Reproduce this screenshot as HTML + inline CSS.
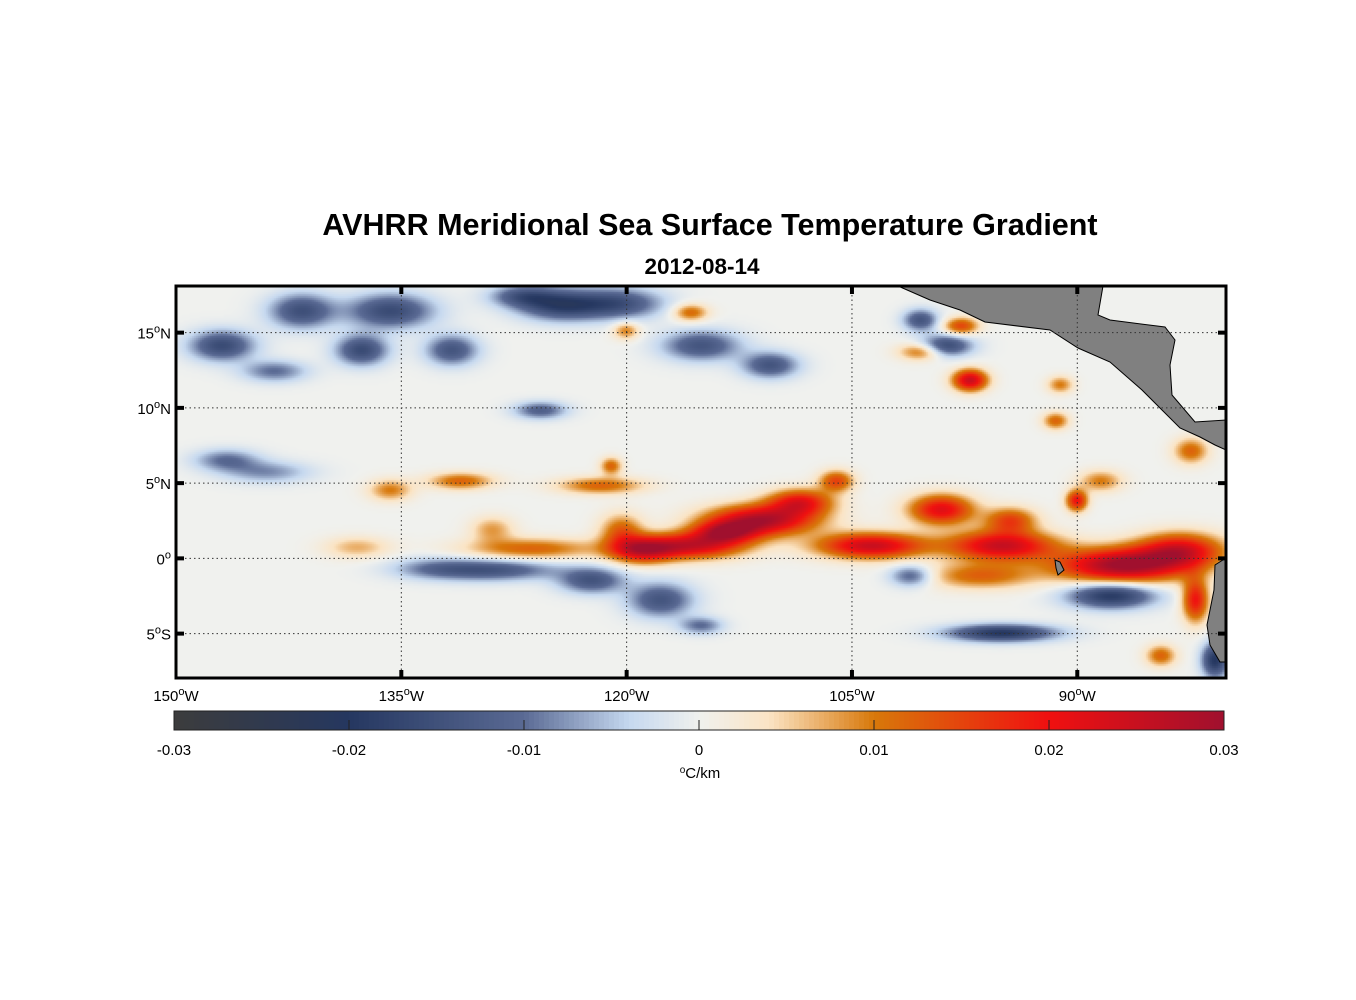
<!DOCTYPE html>
<html><head><meta charset="utf-8"><style>
body{margin:0;background:#fff;width:1356px;height:1000px;position:relative;overflow:hidden;font-family:"Liberation Sans",Arial,sans-serif}
svg{position:absolute;left:0;top:0}
</style></head><body>
<canvas id="cv" width="1050" height="392" style="position:absolute;left:176px;top:286px"></canvas>
<svg id="s" width="1356" height="1000"></svg>
<script>
// feature data: longitude (deg W), latitude (deg), gradient value (°C/km), half widths (deg)
const featLon=[87.1,83.2,95.1,103.8,111.1,115.8,119.1,126.4,99.1,94.5,96.5,90.1,88.5,121.8,131.1,135.8,120.4,82.2,84.5,97.2,100.5,97.8,115.8,82.5,91.5,91.2,121.1,120.1,106.1,108.5,113.5,138.0,129.0,
135.8,141.7,147,124.4,137.7,131.7,115.1,110.5,98.8,100.5,125.8,129.1,122.4,117.8,87.8,95.1,101.1,80.9,146.7,115.1,120.5,143.5,127.0,144.0,133.0];
const featLat=[-0.4,0.6,0.9,0.9,2.6,0.9,0.6,0.7,3.3,2.6,-1.1,3.9,5.2,4.9,5.2,4.6,1.9,-2.7,-6.4,11.9,13.8,15.5,16.4,7.2,9.2,11.6,6.2,15.2,5.2,3.8,1.8,0.8,2.0,
16.5,16.5,14.2,16.9,13.9,13.9,14.2,12.9,14.2,15.9,9.9,-0.7,-1.4,-2.7,-2.4,-4.9,-1.1,-6.7,6.6,-4.4,17.0,12.5,17.5,5.8,-0.6];
const featVal=[0.03,0.022,0.025,0.025,0.028,0.024,0.02,0.012,0.022,0.015,0.012,0.02,0.01,0.012,0.012,0.01,0.012,0.02,0.012,0.025,0.012,0.015,0.012,0.012,0.012,0.01,0.012,0.01,0.015,0.02,0.02,0.007,0.008,
-0.016,-0.015,-0.016,-0.018,-0.016,-0.014,-0.014,-0.014,-0.016,-0.014,-0.012,-0.014,-0.014,-0.014,-0.02,-0.02,-0.012,-0.02,-0.01,-0.01,-0.014,-0.01,-0.012,-0.008,-0.006];
const featSx=[3,2,2.5,2.5,2.5,2.5,1.5,3,1.5,1.2,2.5,0.5,1,2,1.5,1,1,0.6,0.7,0.8,1,0.8,0.8,0.8,0.6,0.6,0.5,0.6,0.8,1.5,1.5,1.5,1,
2,1.5,1.5,2,1.2,1.2,1.8,1.3,1.2,0.8,1.2,3,1.5,1.5,2,2.5,1,0.6,1.5,1,2,1.5,1.5,2,2];
const featSy=[0.8,0.8,0.7,0.6,0.7,0.6,0.6,0.5,0.7,0.6,0.6,0.5,0.5,0.4,0.4,0.5,0.8,1,0.5,0.5,0.4,0.4,0.4,0.6,0.4,0.4,0.4,0.4,0.5,0.6,0.5,0.5,0.6,
0.8,0.8,0.7,0.7,0.7,0.7,0.7,0.6,0.5,0.5,0.4,0.5,0.6,0.8,0.6,0.4,0.5,0.8,0.5,0.4,0.7,0.5,0.5,0.5,0.5];
const cbTicks=[-0.03,-0.02,-0.01,0,0.01,0.02,0.03];
const lonTicks=[150,135,120,105,90];
const latTicks=[15,10,5,0,-5];

const X0=176,X1=1226,Y0=286,Y1=678,LONW=150,LONE=80.1,LATN=18.1,LATS=-7.95;
const xOf=l=>X0+(LONW-l)/(LONW-LONE)*(X1-X0);
const yOf=a=>Y0+(LATN-a)/(LATN-LATS)*(Y1-Y0);
const stops=[[-0.03,[60,60,60]],[-0.02,[37,55,96]],[-0.01,[90,106,148]],[-0.004,[197,216,239]],[0,[240,241,238]],[0.004,[251,228,196]],[0.01,[216,120,10]],[0.02,[240,16,16]],[0.03,[160,16,46]]];
function cmap(v){v=Math.max(-0.03,Math.min(0.03,v));for(let i=0;i<stops.length-1;i++){const a=stops[i],b=stops[i+1];if(v<=b[0]){const t=(v-a[0])/(b[0]-a[0]);return a[1].map((c,k)=>Math.round(c+(b[1][k]-c)*t));}}return stops[stops.length-1][1];}

const cv=document.getElementById('cv'),ctx=cv.getContext('2d');
const img=ctx.createImageData(1050,392);
const W=1050,H=392,st=2;
for(let py=0;py<H;py+=st){for(let px=0;px<W;px+=st){
 const lon=LONW-(px/W)*(LONW-LONE),lat=LATN-(py/H)*(LATN-LATS);let v=0;
 for(let i=0;i<featLon.length;i++){const dx=(lon-featLon[i])/featSx[i],dy=(lat-featLat[i])/featSy[i];const d=dx*dx+dy*dy;if(d<12)v+=featVal[i]*Math.exp(-d/2);}
 const c=cmap(v);
 for(let yy=py;yy<Math.min(py+st,H);yy++)for(let xx=px;xx<Math.min(px+st,W);xx++){const o=(yy*W+xx)*4;img.data[o]=c[0];img.data[o+1]=c[1];img.data[o+2]=c[2];img.data[o+3]=255;}
}}
ctx.putImageData(img,0,0);

const s=document.getElementById('s'),NS='http://www.w3.org/2000/svg';
function el(t,a,p){const e=document.createElementNS(NS,t);for(const k in a)e.setAttribute(k,a[k]);(p||s).appendChild(e);return e;}
// land
let e=el('polygon',{points:'898,286 1103,286 1098,315 1110,320 1165,327 1175,340 1170,365 1172,395 1195,422 1226,420 1226,450 1215,445 1200,437 1180,428 1160,408 1142,390 1110,362 1078,348 1050,330 985,322 960,310 930,300',fill:'#808080',stroke:'#000','stroke-width':1});

e=el('polygon',{points:'1226,558 1215,565 1214,590 1211,605 1207,625 1210,645 1220,662 1226,662',fill:'#808080',stroke:'#000','stroke-width':1});

e=el('polygon',{points:'1055,560 1060,562 1064,570 1058,575 1056,568',fill:'#808080',stroke:'#000','stroke-width':1});

// grid + ticks
lonTicks.forEach(l=>{const x=xOf(l);
 if(l!==150){e=el('line',{x1:x,y1:Y0,x2:x,y2:Y1,stroke:'#333','stroke-width':1,'stroke-dasharray':'1.5,3'});
 el('line',{x1:x,y1:Y0,x2:x,y2:Y0+8,stroke:'#000','stroke-width':4});el('line',{x1:x,y1:Y1-8,x2:x,y2:Y1,stroke:'#000','stroke-width':4});}
 e=el('text',{x:x,y:701,'text-anchor':'middle','font-size':15});e.innerHTML=l+'<tspan dy="-6" font-size="11">o</tspan><tspan dy="6">W</tspan>';
 });
latTicks.forEach(a=>{const y=yOf(a);
 e=el('line',{x1:X0,y1:y,x2:X1,y2:y,stroke:'#333','stroke-width':1,'stroke-dasharray':'1.5,3'});
 el('line',{x1:X0,y1:y,x2:X0+8,y2:y,stroke:'#000','stroke-width':4});el('line',{x1:X1-8,y1:y,x2:X1,y2:y,stroke:'#000','stroke-width':4});
 const h=a>0?'N':(a<0?'S':'');
 e=el('text',{x:171,y:y+6,'text-anchor':'end','font-size':15});e.innerHTML=Math.abs(a)+'<tspan dy="-6" font-size="11">o</tspan><tspan dy="6">'+h+'</tspan>';
 });
e=el('rect',{x:X0,y:Y0,width:X1-X0,height:Y1-Y0,fill:'none',stroke:'#000','stroke-width':3});

// titles
e=el('text',{x:710,y:235,'text-anchor':'middle','font-size':30.5,'font-weight':'bold'});e.textContent='AVHRR Meridional Sea Surface Temperature Gradient';

e=el('text',{x:702,y:274,'text-anchor':'middle','font-size':22.5,'font-weight':'bold'});e.textContent='2012-08-14';

// colorbar
const CB0=174,CB1=1224,cbx=v=>CB0+(v+0.03)/0.06*(CB1-CB0);
const g=el('g',{});
for(let i=0;i<210;i++){const v=-0.03+0.06*(i+0.5)/210;const c=cmap(v);el('rect',{x:CB0+i*5,y:711,width:5.5,height:19,fill:'rgb('+c+')'},g);}
el('rect',{x:CB0,y:711,width:CB1-CB0,height:19,fill:'none',stroke:'#222','stroke-width':1},g);
cbTicks.forEach(v=>{const x=cbx(v);el('line',{x1:x,y1:720,x2:x,y2:730,stroke:'#222','stroke-width':1},g);
 e=el('text',{x:x,y:755,'text-anchor':'middle','font-size':15});e.textContent=v===0?'0':v.toString();
 });
e=el('text',{x:700,y:778,'text-anchor':'middle','font-size':15});e.innerHTML='<tspan dy="-5" font-size="10">o</tspan><tspan dy="5">C/km</tspan>';

</script>
</body></html>
